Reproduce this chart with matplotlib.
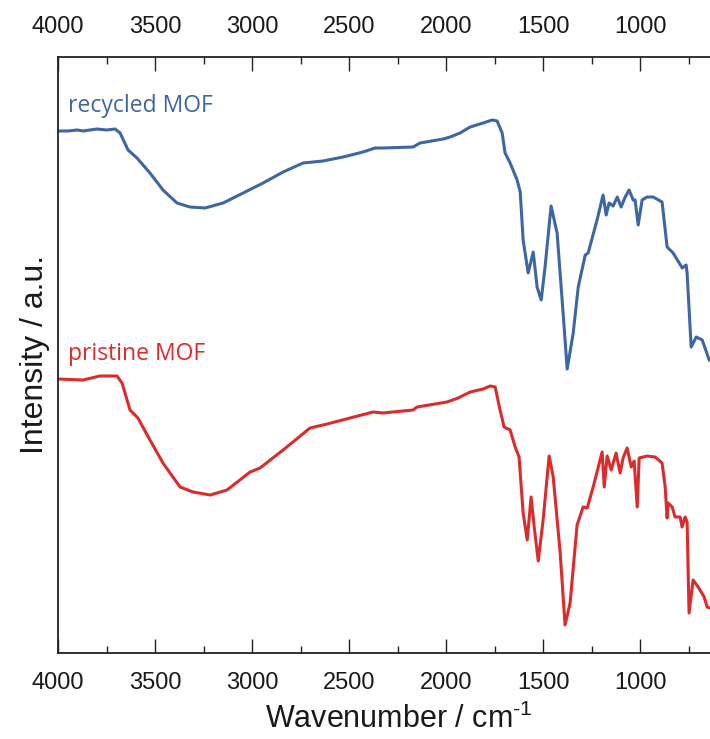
import matplotlib
matplotlib.use("Agg")
import matplotlib.pyplot as plt
from matplotlib import font_manager
from matplotlib.ticker import MultipleLocator

# ---------------- data ----------------
wn_recycled = [4000, 3950, 3900, 3871, 3800, 3750, 3706, 3680, 3639, 3593, 3526, 3459,
               3387, 3320, 3242, 3149, 3046, 2943, 2840, 2737, 2634, 2531, 2428, 2366,
               2325, 2170, 2134, 2015, 1979, 1928, 1876, 1809, 1763, 1737, 1711, 1696,
               1670, 1634, 1618, 1603, 1577, 1551, 1531, 1510, 1490, 1459, 1428, 1402,
               1376, 1345, 1319, 1283, 1268, 1222, 1191, 1175, 1160, 1139, 1118, 1098,
               1077, 1057, 1036, 1026, 1010, 990, 964, 933, 887, 861, 830, 783, 763,
               758, 737, 711, 680, 644]
int_recycled = [569, 569, 570, 569, 571, 570, 571, 567, 550, 542, 527, 510,
                497, 493, 492, 497, 507, 517, 528, 537, 539, 543, 548, 552,
                552, 553, 557, 561, 563, 567, 573, 577, 580, 579, 567, 547,
                537, 520, 508, 460, 427, 448, 413, 400, 433, 494, 467, 400,
                331, 367, 413, 445, 447, 480, 505, 485, 497, 494, 503, 493,
                503, 510, 500, 500, 475, 500, 503, 503, 498, 453, 447, 432, 435,
                427, 353, 363, 360, 340]

wn_pristine = [4000, 3871, 3784, 3696, 3670, 3629, 3588, 3526, 3459, 3371, 3304, 3216,
               3129, 3010, 2959, 2840, 2701, 2613, 2495, 2376, 2325, 2170, 2150, 1995,
               1938, 1876, 1809, 1773, 1747, 1722, 1701, 1670, 1644, 1624, 1603, 1582,
               1562, 1546, 1525, 1500, 1469, 1448, 1412, 1387, 1361, 1325, 1294, 1273,
               1242, 1196, 1185, 1170, 1149, 1124, 1103, 1088, 1067, 1046, 1031, 1015,
               1005, 964, 923, 887, 871, 861, 856, 835, 820, 794, 784, 768, 758, 748,
               727, 701, 670, 655, 640]
int_pristine = [321, 320, 324, 324, 317, 290, 282, 260, 237, 213, 208, 205,
                210, 228, 232, 250, 272, 276, 282, 288, 287, 290, 293, 298,
                302, 308, 311, 314, 313, 290, 273, 270, 253, 243, 187, 160,
                203, 173, 139, 180, 244, 223, 147, 75, 97, 175, 193, 192,
                213, 248, 213, 244, 230, 247, 227, 242, 252, 233, 239, 193,
                242, 244, 243, 237, 213, 182, 197, 193, 183, 183, 173, 183, 178, 87,
                120, 113, 103, 93, 92]

series_labels = ["recycled MOF", "pristine MOF"]
x_ticks = [4000, 3500, 3000, 2500, 2000, 1500, 1000]

# ---------------- fonts ----------------
available = {f.name for f in font_manager.fontManager.ttflist}
narrow = "Liberation Sans Narrow" if "Liberation Sans Narrow" in available else "Liberation Sans"
label_font = "Open Sans" if "Open Sans" in available else "DejaVu Sans"

plt.rcParams["mathtext.fontset"] = "custom"
plt.rcParams["mathtext.rm"] = narrow
plt.rcParams["mathtext.it"] = narrow
plt.rcParams["mathtext.bf"] = narrow

blue = "#3d66a3"
red = "#dc2b2b"

fig = plt.figure(figsize=(7.10, 7.39), dpi=100)
ax = fig.add_axes([58/710, (739-653)/739, 1 - 58/710, (653-57)/739])

ax.plot(wn_recycled, int_recycled, color=blue, lw=2.2, solid_joinstyle="round")
ax.plot(wn_pristine, int_pristine, color=red, lw=2.2, solid_joinstyle="round")

ax.set_xlim(4000, 640)
ax.set_ylim(47, 643)

ax.xaxis.set_major_locator(MultipleLocator(500))
ax.xaxis.set_minor_locator(MultipleLocator(250))
ax.set_xticks(x_ticks)
ax.set_yticks([])

ax.tick_params(axis="x", which="both", direction="in", top=True, bottom=True,
               labeltop=True, labelbottom=True, width=1.0, color="#222222")
ax.tick_params(axis="x", which="major", length=10, pad=14)
ax.tick_params(axis="x", which="minor", length=5)
for lab in ax.get_xticklabels(which="both"):
    lab.set_fontfamily(narrow)
    lab.set_fontsize(17)
    lab.set_color("#1a1a1a")

for side in ["left", "bottom", "top"]:
    ax.spines[side].set_linewidth(1.3)
    ax.spines[side].set_color("#222222")
ax.spines["right"].set_visible(False)

ax.set_xlabel(r"Wavenumber / cm$^{\text{-1}}$", fontsize=22, family=narrow, color="#1a1a1a")
ax.xaxis.set_label_coords(0.523, -0.085)
ax.set_ylabel("Intensity / a.u.", fontsize=23, family="Liberation Sans", color="#1a1a1a",
              labelpad=6)

ax.text(0.015, (653-106)/(653-57), series_labels[0], transform=ax.transAxes,
        color=blue, fontsize=16.5, family=label_font, va="center", ha="left")
ax.text(0.015, (653-354)/(653-57), series_labels[1], transform=ax.transAxes,
        color=red, fontsize=16.5, family=label_font, va="center", ha="left")

fig.savefig("out.png", dpi=100)
